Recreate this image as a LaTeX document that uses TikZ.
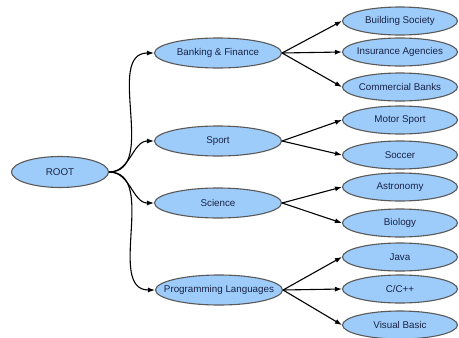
\documentclass[tikz,border=0pt]{standalone}
\usepackage{fontspec}
\setmainfont{Liberation Sans}
\usepackage{tikz}
\usetikzlibrary{shapes.geometric, arrows.meta}

\definecolor{nodefill}{RGB}{158,204,250}
\definecolor{nodetext}{RGB}{25,35,70}

\begin{document}
\begin{tikzpicture}[x=1pt, y=-1pt,
		every node/.style={ellipse, draw=black!65, fill=nodefill, text=nodetext,
			inner xsep=-20pt, inner ysep=0pt, font=\fontsize{9.8}{11}\selectfont},
		topic/.style={minimum width=127pt, minimum height=30pt},
		leaf/.style={minimum width=115pt, minimum height=28pt},
		every path/.style={>={Latex[length=7pt, width=5pt]}, line width=1.1pt}]
	\useasboundingbox (0,0) rectangle (459,338);

	\node [minimum width=97pt, minimum height=31pt] (ROOT) at (60,172) {ROOT};

	\node [topic] (BF) at (218,53) {Banking \& Finance};
	\node [topic] (SP) at (218,141) {Sport};
	\node [topic] (SC) at (218,203) {Science};
	\node [topic] (PL) at (219,290) {Programming Languages};

	\node [leaf] (BS) at (400,21) {Building Society};
	\node [leaf] (IA) at (400,52) {Insurance Agencies};
	\node [leaf] (CB) at (400,87) {Commercial Banks};
	\node [leaf] (MS) at (400,120) {Motor Sport};
	\node [leaf] (SO) at (400,155) {Soccer};
	\node [leaf] (AS) at (400,187) {Astronomy};
	\node [leaf] (BI) at (400,223) {Biology};
	\node [leaf] (JA) at (400,257) {Java};
	\node [leaf] (CC) at (400,289) {C/C++};
	\node [leaf] (VB) at (400,325) {Visual Basic};

	\path [->] (ROOT.east) edge [out=0, in=180] (BF.west);
	\path [->] (ROOT.east) edge [out=0, in=180] (SP.west);
	\path [->] (ROOT.east) edge [out=0, in=180] (SC.west);
	\path [->] (ROOT.east) edge [out=0, in=180] (PL.west);

	\path [->] (BF.east) edge (BS.west);
	\path [->] (BF.east) edge (IA.west);
	\path [->] (BF.east) edge (CB.west);
	\path [->] (SP.east) edge (MS.west);
	\path [->] (SP.east) edge (SO.west);
	\path [->] (SC.east) edge (AS.west);
	\path [->] (SC.east) edge (BI.west);
	\path [->] (PL.east) edge (JA.west);
	\path [->] (PL.east) edge (CC.west);
	\path [->] (PL.east) edge (VB.west);
\end{tikzpicture}
\end{document}
